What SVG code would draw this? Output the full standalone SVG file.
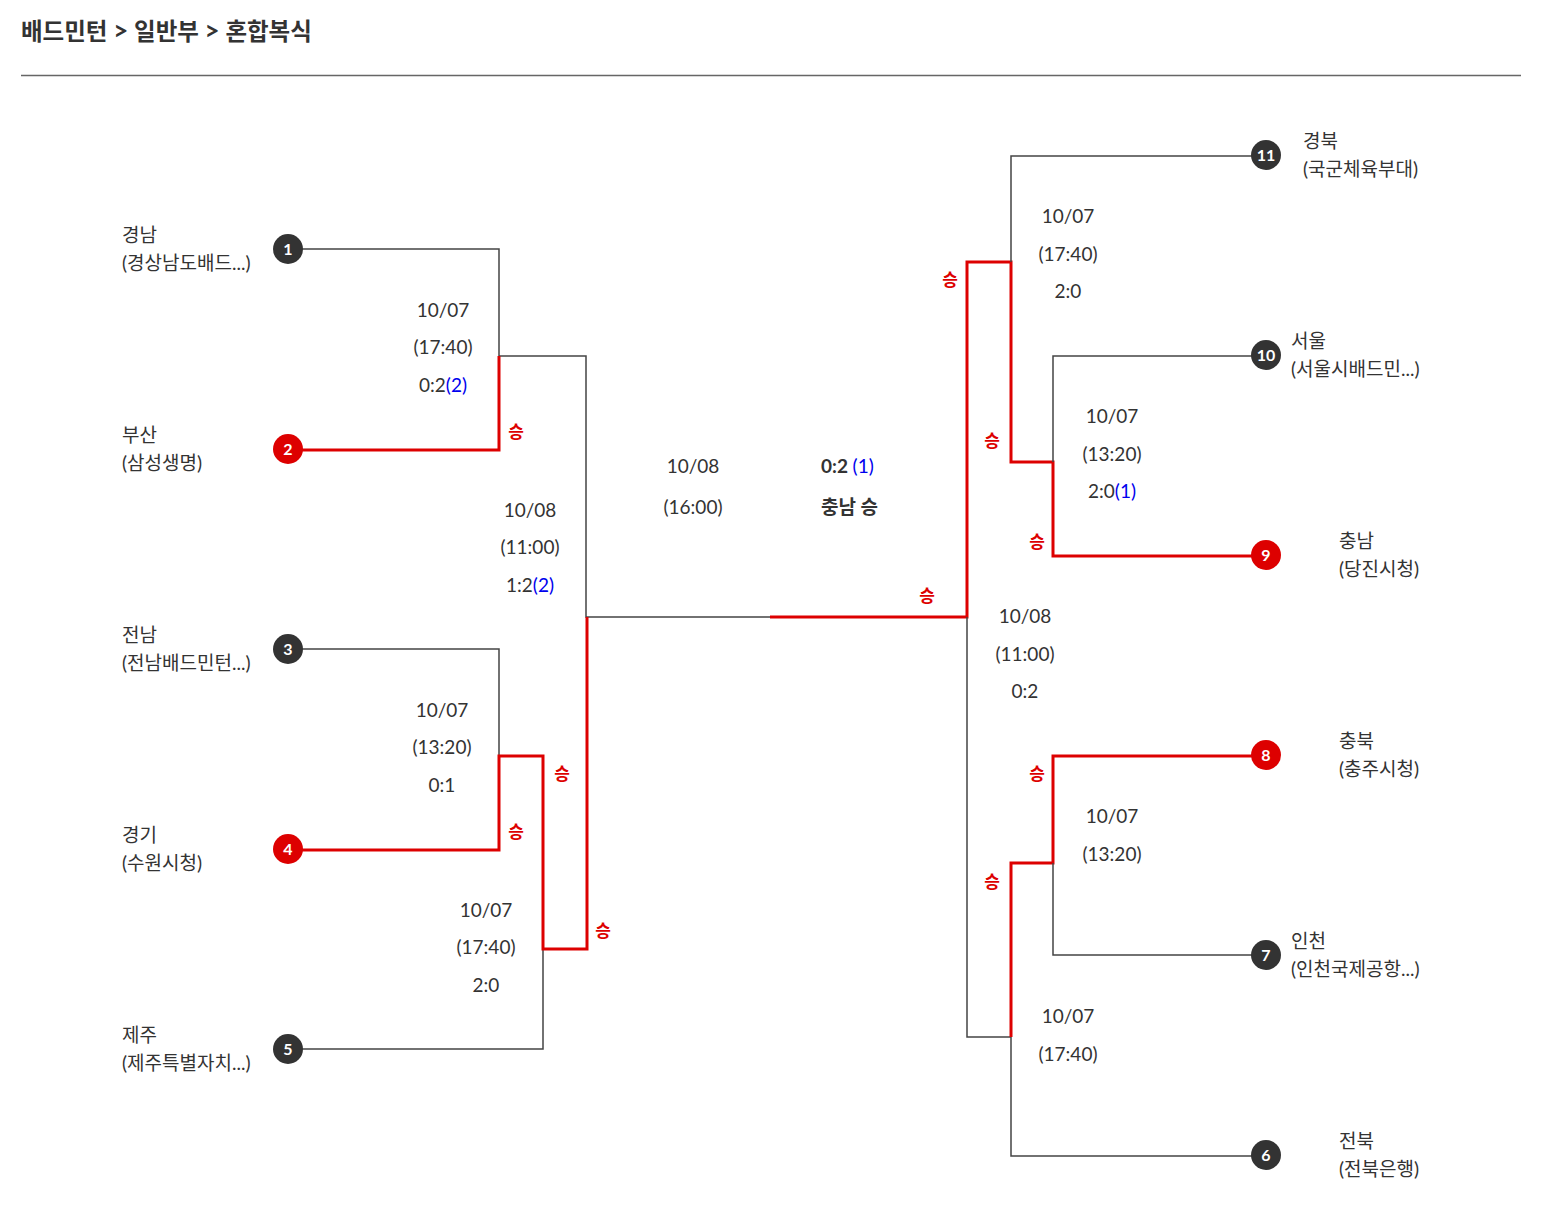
<svg xmlns="http://www.w3.org/2000/svg" width="1545" height="1230" viewBox="0 0 1545 1230">
<style>
text{font-family:Lato,"Noto Sans CJK KR",sans-serif;fill:#333;font-size:19px}
.t{font-size:23.5px;font-weight:bold}
.m{text-anchor:middle}
.b{fill:#0000ee}
.w{fill:#d00;font-weight:bold;font-size:17px;text-anchor:middle}
.g{fill:none;stroke:#444;stroke-width:1.5}
.r{fill:none;stroke:#d00;stroke-width:3}
.cg{fill:#333}
.cr{fill:#d00}
.n{fill:#fff;font-weight:bold;font-size:16px;text-anchor:middle}
</style>
<rect width="1545" height="1230" fill="#fff"/>
<text x="21" y="40" class="t">배드민턴 <tspan font-size="26">&gt;</tspan> 일반부 <tspan font-size="26">&gt;</tspan> 혼합복식</text>
<line x1="21" y1="75.5" x2="1521" y2="75.5" stroke="#666" stroke-width="1.5"/>
<g id="connectors">
<path class="g" d="M302 249H499V356M499 356H586V617H770"/>
<path class="r" d="M302 450H499V356"/>
<path class="g" d="M302 649H499V756M302 1049H543V949"/>
<path class="r" d="M302 850H499V756H543V949H587V617M770 617H967V262H1011V462H1053V556H1252"/>
<path class="g" d="M967 617V1037H1011V1156H1252M1011 262V156H1252M1053 462V356H1252"/>
<path class="r" d="M1011 1037V863H1053V756H1252"/>
<path class="g" d="M1053 863V955H1252"/>
</g>
<g id="labels">
<text x="443" y="317" class="m">10/07</text><text x="443" y="354" class="m">(17:40)</text><text x="443" y="392" class="m">0:2<tspan class="b">(2)</tspan></text>
<text x="442" y="717" class="m">10/07</text><text x="442" y="754" class="m">(13:20)</text><text x="442" y="792" class="m">0:1</text>
<text x="486" y="917" class="m">10/07</text><text x="486" y="954" class="m">(17:40)</text><text x="486" y="992" class="m">2:0</text>
<text x="530" y="517" class="m">10/08</text><text x="530" y="554" class="m">(11:00)</text><text x="530" y="592" class="m">1:2<tspan class="b">(2)</tspan></text>
<text x="693" y="473" class="m">10/08</text><text x="693" y="514" class="m">(16:00)</text>
<text x="821" y="473" font-weight="bold">0:2 <tspan class="b" font-weight="normal">(1)</tspan></text>
<text x="821" y="514" font-weight="bold">충남 승</text>
<text x="1068" y="223" class="m">10/07</text><text x="1068" y="261" class="m">(17:40)</text><text x="1068" y="298" class="m">2:0</text>
<text x="1112" y="423" class="m">10/07</text><text x="1112" y="461" class="m">(13:20)</text><text x="1112" y="498" class="m">2:0<tspan class="b">(1)</tspan></text>
<text x="1025" y="623" class="m">10/08</text><text x="1025" y="661" class="m">(11:00)</text><text x="1025" y="698" class="m">0:2</text>
<text x="1112" y="823" class="m">10/07</text><text x="1112" y="861" class="m">(13:20)</text>
<text x="1068" y="1023" class="m">10/07</text><text x="1068" y="1061" class="m">(17:40)</text>
<text x="516" y="438" class="w">승</text><text x="516" y="838" class="w">승</text><text x="562" y="780" class="w">승</text><text x="603" y="937" class="w">승</text>
<text x="927" y="602" class="w">승</text><text x="950" y="286" class="w">승</text><text x="992" y="447" class="w">승</text><text x="1037" y="548" class="w">승</text>
<text x="1037" y="780" class="w">승</text><text x="992" y="888" class="w">승</text>
</g>
<g id="team1"><circle cx="288" cy="249" r="15" class="cg"/><text x="288" y="255" class="n">1</text><text x="122" y="242">경남</text><text x="122" y="270">(경상남도배드...)</text></g>
<g id="team2"><circle cx="288" cy="449" r="15" class="cr"/><text x="288" y="455" class="n">2</text><text x="122" y="442">부산</text><text x="122" y="470">(삼성생명)</text></g>
<g id="team3"><circle cx="288" cy="649" r="15" class="cg"/><text x="288" y="655" class="n">3</text><text x="122" y="642">전남</text><text x="122" y="670">(전남배드민턴...)</text></g>
<g id="team4"><circle cx="288" cy="849" r="15" class="cr"/><text x="288" y="855" class="n">4</text><text x="122" y="842">경기</text><text x="122" y="870">(수원시청)</text></g>
<g id="team5"><circle cx="288" cy="1049" r="15" class="cg"/><text x="288" y="1055" class="n">5</text><text x="122" y="1042">제주</text><text x="122" y="1070">(제주특별자치...)</text></g>
<g id="team11"><circle cx="1266" cy="155" r="15" class="cg"/><text x="1266" y="161" class="n">11</text><text x="1303" y="148">경북</text><text x="1303" y="176">(국군체육부대)</text></g>
<g id="team10"><circle cx="1266" cy="355" r="15" class="cg"/><text x="1266" y="361" class="n">10</text><text x="1291" y="348">서울</text><text x="1291" y="376">(서울시배드민...)</text></g>
<g id="team9"><circle cx="1266" cy="555" r="15" class="cr"/><text x="1266" y="561" class="n">9</text><text x="1339" y="548">충남</text><text x="1339" y="576">(당진시청)</text></g>
<g id="team8"><circle cx="1266" cy="755" r="15" class="cr"/><text x="1266" y="761" class="n">8</text><text x="1339" y="748">충북</text><text x="1339" y="776">(충주시청)</text></g>
<g id="team7"><circle cx="1266" cy="955" r="15" class="cg"/><text x="1266" y="961" class="n">7</text><text x="1291" y="948">인천</text><text x="1291" y="976">(인천국제공항...)</text></g>
<g id="team6"><circle cx="1266" cy="1155" r="15" class="cg"/><text x="1266" y="1161" class="n">6</text><text x="1339" y="1148">전북</text><text x="1339" y="1176">(전북은행)</text></g>
</svg>
